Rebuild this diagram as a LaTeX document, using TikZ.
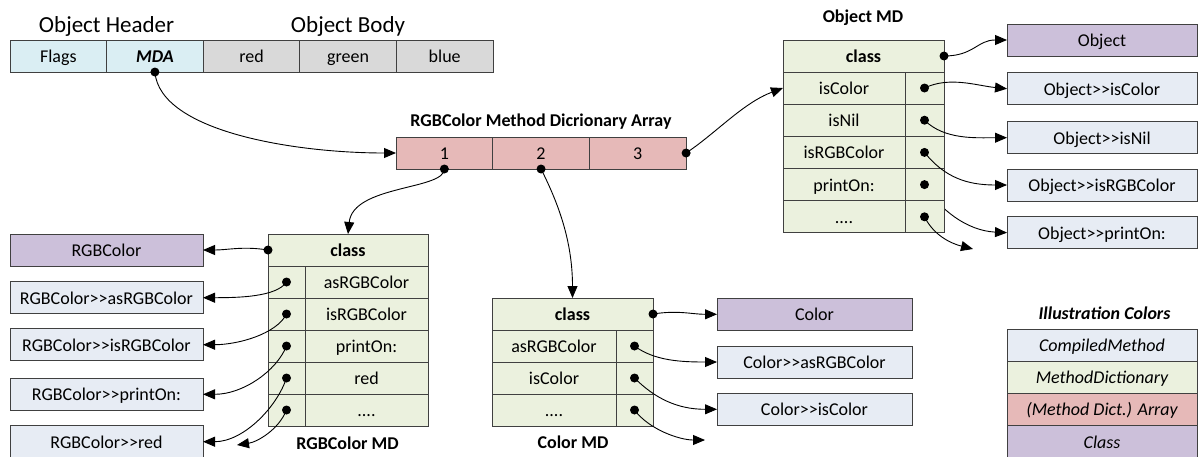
\documentclass[tikz,border=0pt]{standalone}
\usepackage{fontspec}
\setmainfont{Carlito}
\usetikzlibrary{positioning,arrows.meta}
\pgfdeclarelayer{back}
\pgfsetlayers{back,main}
\newcommand\moredots{....}

\begin{document}
\begin{tikzpicture}[x=1pt,y=-1pt,
  cell/.style={draw=black!75,line width=0.9pt,inner sep=0pt,outer sep=0pt,minimum height=32pt,text height=15pt,text depth=2pt,font=\fontsize{18}{21}\selectfont},
  dot/.style={circle,fill=black,inner sep=0pt,minimum size=9pt},
  link/.style={line width=0.9pt,-{Triangle[length=12pt,width=10pt]}},
  title/.style={font=\fontsize{18}{21}\selectfont\bfseries},
  big/.style={font=\fontsize{23}{27}\selectfont}]
\useasboundingbox (0,0) rectangle (1198,456);
\definecolor{hdrColor}{RGB}{218,238,243}
\definecolor{bodyColor}{RGB}{217,217,217}
\definecolor{arrColor}{RGB}{230,185,184}
\definecolor{mdColor}{RGB}{235,241,222}
\definecolor{clsColor}{RGB}{204,192,218}
\definecolor{cmColor}{RGB}{231,236,244}

% object: header and body
\node[cell,fill=hdrColor,minimum width=96.6pt,anchor=north west] (flags) at (10,40) {Flags};
\node[cell,fill=hdrColor,minimum width=96.6pt,right=0pt of flags] (mda) {\textbf{\textit{MDA}}};
\node[cell,fill=bodyColor,minimum width=96.6pt,right=0pt of mda] (red) {red};
\node[cell,fill=bodyColor,minimum width=96.6pt,right=0pt of red] (green) {green};
\node[cell,fill=bodyColor,minimum width=96.6pt,right=0pt of green] (blue) {blue};
\node[big] (hdr-lbl) at (106.6,26) {Object Header};
\node[big] (body-lbl) at (348,26) {Object Body};
\node[dot] (mda-d) at (mda.south) {};

% method dictionary array
\foreach \i in {1,2,3}
  \node[cell,fill=arrColor,minimum width=96.7pt,anchor=north west] (arr\i) at ({396+96.7*(\i-1)},137) {\i};
\node[title] (arr-lbl) at (541,122) {RGBColor Method Dicrionary Array};
\node[dot] (arr-d1) at (arr1.south) {};
\node[dot] (arr-d2) at (arr2.south) {};
\node[dot] (arr-d3) at (arr3.east) {};

% Object MD and its targets
\node[cell,fill=clsColor,minimum width=190pt,anchor=north west] (obj) at (1007,24) {Object};
\foreach \i/\t/\y in {1/isColor/72.7,2/isNil/121.7,3/isRGBColor/169,4/printOn:/216.7}
  \node[cell,fill=cmColor,minimum width=190pt,anchor=north west] (obj-m\i) at (1007,\y) {Object>{}>\t};
\node[title] (omd-lbl) at (863,18) {Object MD};
\node[cell,fill=mdColor,minimum width=161pt,anchor=north west] (omd-class) at (783,40) {\bfseries class};
\foreach \i/\t in {1/isColor,2/isNil,3/isRGBColor,4/printOn:,5/\moredots} {
  \node[cell,fill=mdColor,minimum width=122pt,anchor=north west] (omd-n\i) at (783,{72+32.2*(\i-1)}) {\t};
  \node[cell,fill=mdColor,minimum width=39pt,right=0pt of omd-n\i] (omd-p\i) {};
  \node[dot] (omd-d\i) at (omd-p\i) {};
}
\node[dot] (omd-cd) at (omd-class.east) {};
\coordinate (omd-end) at (973,249);

% RGBColor MD and its targets
\node[cell,fill=clsColor,minimum width=193pt,anchor=north west] (rgb) at (10,234) {RGBColor};
\foreach \i/\t/\y in {1/asRGBColor/281.7,2/isRGBColor/328.7,3/printOn:/378.3,4/red/425.7}
  \node[cell,fill=cmColor,minimum width=193pt,anchor=north west] (rgb-m\i) at (10,\y) {RGBColor>{}>\t};
\node[cell,fill=mdColor,minimum width=160pt,anchor=north west] (rmd-class) at (268,234) {\bfseries class};
\foreach \i/\t in {1/asRGBColor,2/isRGBColor,3/printOn:,4/red,5/\moredots} {
  \node[cell,fill=mdColor,minimum width=37pt,anchor=north west] (rmd-p\i) at (268,{266+32*(\i-1)}) {};
  \node[cell,fill=mdColor,minimum width=123pt,right=0pt of rmd-p\i] (rmd-n\i) {\t};
  \node[dot] (rmd-d\i) at (rmd-p\i) {};
}
\node[dot] (rmd-cd) at (rmd-class.west) {};
\node[title] (rmd-lbl) at (347.5,443) {RGBColor MD};
\coordinate (rmd-end) at (237,445);

% Color MD and its targets
\node[cell,fill=clsColor,minimum width=195pt,anchor=north west] (col) at (717,298.3) {Color};
\foreach \i/\t/\y in {1/asRGBColor/346,2/isColor/393.3}
  \node[cell,fill=cmColor,minimum width=195pt,anchor=north west] (col-m\i) at (717,\y) {Color>{}>\t};
\node[cell,fill=mdColor,minimum width=161pt,anchor=north west] (cmd-class) at (492,298) {\bfseries class};
\foreach \i/\t in {1/asRGBColor,2/isColor,3/\moredots} {
  \node[cell,fill=mdColor,minimum width=124pt,anchor=north west] (cmd-n\i) at (492,{330+32*(\i-1)}) {\t};
  \node[cell,fill=mdColor,minimum width=37pt,right=0pt of cmd-n\i] (cmd-p\i) {};
  \node[dot] (cmd-d\i) at (cmd-p\i) {};
}
\node[dot] (cmd-cd) at (cmd-class.east) {};
\node[title] (cmd-lbl) at (573,442) {Color MD};
\coordinate (cmd-end) at (705,440);

% legend
\node[title,font=\fontsize{18}{21}\selectfont\bfseries\itshape] (leg-lbl) at (1104.5,313) {Illustration Colors};
\foreach \i/\c/\t in {1/cmColor/CompiledMethod,2/mdColor/MethodDictionary,3/arrColor/(Method Dict.) Array,4/clsColor/Class}
  \node[cell,fill=\c,minimum width=190pt,anchor=north west,font=\fontsize{18}{21}\selectfont\itshape] (leg\i) at (1007,{329+32.2*(\i-1)}) {\t};

% pointers
\draw[link] (mda-d.center) .. controls +(5,60) and +(-100,0) .. (arr1.west);
\draw[link] (arr-d3.center) .. controls +(30,-20) and +(-40,15) .. (omd-n1.west);
\draw[link] (arr-d1.center) .. controls +(0,21) and +(5,-49) .. (rmd-class.north);
\draw[link] (arr-d2.center) .. controls +(15,30) and +(0,-60) .. (cmd-class.north);

\draw[link] (omd-cd.center) .. controls +(30,0) and +(-30,0) .. (obj.west);
\draw[link] (omd-d1.center) .. controls +(25,-12) and +(-30,-3) .. (obj-m1.west);
\draw[link] (omd-d2.center) .. controls +(20,20) and +(-30,0) .. (obj-m2.west);
\draw[link] (omd-d3.center) .. controls +(20,25) and +(-40,0) .. (obj-m3.west);
\begin{pgfonlayer}{back}
\draw[link] (omd-d4.center) .. controls +(15,25) and +(-40,-2) .. (obj-m4.west);
\end{pgfonlayer}
\draw[link] (omd-d5.center) .. controls +(10,20) and +(-20,-5) .. (omd-end);

\draw[link] (rmd-cd.center) .. controls +(-25,-4) and +(25,0) .. (rgb.east);
\draw[link] (rmd-d1.center) .. controls +(-10,15) and +(35,0) .. (rgb-m1.east);
\draw[link] (rmd-d2.center) .. controls +(-10,20) and +(35,0) .. (rgb-m2.east);
\draw[link] (rmd-d3.center) .. controls +(-10,25) and +(40,0) .. (rgb-m3.east);
\draw[link] (rmd-d4.center) .. controls +(-10,30) and +(40,0) .. (rgb-m4.east);
\draw[link] (rmd-d5.center) .. controls +(-8,20) and +(20,-3) .. (rmd-end);

\draw[link] (cmd-cd.center) .. controls +(25,-4) and +(-25,0) .. (col.west);
\draw[link] (cmd-d1.center) .. controls +(20,15) and +(-35,0) .. (col-m1.west);
\draw[link] (cmd-d2.center) .. controls +(20,20) and +(-40,0) .. (col-m2.west);
\draw[link] (cmd-d3.center) .. controls +(15,20) and +(-25,0) .. (cmd-end);
\end{tikzpicture}
\end{document}
